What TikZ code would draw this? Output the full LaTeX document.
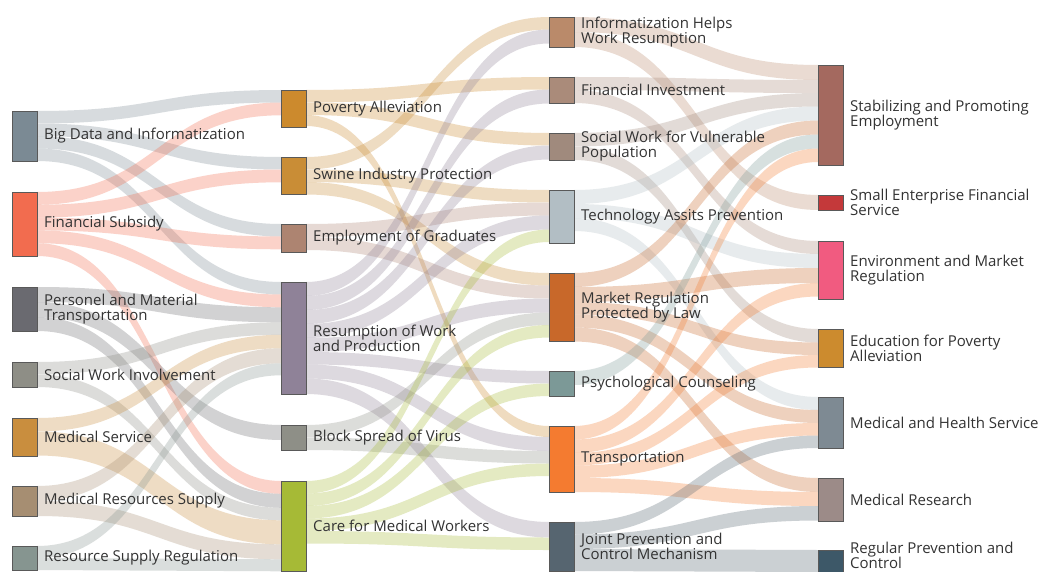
\documentclass[tikz,border=0pt]{standalone}
\usepackage{fontspec}
\setmainfont{Open Sans}
\usetikzlibrary{calc}
\pgfdeclarelayer{bg}
\pgfdeclarelayer{flows}
\pgfsetlayers{bg,flows,main}

% node colours
\definecolor{cBD}{HTML}{7B8A94}
\definecolor{cFS}{HTML}{F26C4F}
\definecolor{cPM}{HTML}{6A6A70}
\definecolor{cSW}{HTML}{8E8E86}
\definecolor{cMS}{HTML}{C98E3E}
\definecolor{cMR}{HTML}{A68E72}
\definecolor{cRS}{HTML}{869590}
\definecolor{cPA}{HTML}{CC8A2D}
\definecolor{cSI}{HTML}{C98D36}
\definecolor{cEG}{HTML}{AD8471}
\definecolor{cRW}{HTML}{8F8298}
\definecolor{cBS}{HTML}{8E8F87}
\definecolor{cCM}{HTML}{A6BA36}
\definecolor{cIH}{HTML}{BA8A6A}
\definecolor{cFI}{HTML}{AA8B7A}
\definecolor{cSV}{HTML}{A08A7D}
\definecolor{cTA}{HTML}{B2BEC4}
\definecolor{cMRL}{HTML}{C8682A}
\definecolor{cPC}{HTML}{7C9997}
\definecolor{cTR}{HTML}{F47B30}
\definecolor{cJP}{HTML}{566570}
\definecolor{cSP}{HTML}{A4695F}
\definecolor{cSE}{HTML}{C4393A}
\definecolor{cEM}{HTML}{F15B80}
\definecolor{cEP}{HTML}{CC8B2E}
\definecolor{cMH}{HTML}{7E8A93}
\definecolor{cMRS}{HTML}{9C8B88}
\definecolor{cRP}{HTML}{3D5868}

\tikzset{
  bar/.style={draw=black!65, line width=0.9pt, minimum width=25pt,
    inner sep=0pt, outer sep=0pt, anchor=north west},
  lbl/.style={anchor=west, inner sep=0pt, align=left, text=black!80,
    font=\fontsize{15}{15}\selectfont},
}

% a flow band: source, offset below source top, target, offset below target top, width
\newcommand{\sflow}[5]{%
  \coordinate (fa) at ($(#1.north east)+(0,#2)$);
  \coordinate (fb) at ($(#3.north west)+(0,#4)$);
  \coordinate (fc) at ($(fb)+(0,#5)$);
  \coordinate (fd) at ($(fa)+(0,#5)$);
  \coordinate (fm) at ($(fa)!0.5!(fb)$);
  \fill[c#1, fill opacity=0.3]
    (fa) .. controls (fm|-fa) and (fm|-fb) .. (fb) -- (fc)
    .. controls (fm|-fc) and (fm|-fd) .. (fd) -- cycle;
}
\newcommand{\blabel}[3][0pt]{\node[lbl] (#2-t) at ([xshift=7pt,yshift=#1]#2.east) {#3};}

\begin{document}
\begin{tikzpicture}[x=1pt, y=-1pt]
\useasboundingbox (0,0) rectangle (1043,572);
\begin{pgfonlayer}{bg}
  \fill[white] (0,0) rectangle (1043,572);
\end{pgfonlayer}

% first column
\node[bar, fill=cBD, minimum height=50pt] (BD) at (12,111) {};
\node[bar, fill=cFS, minimum height=64pt] (FS) at (12,192) {};
\node[bar, fill=cPM, minimum height=44pt] (PM) at (12,287) {};
\node[bar, fill=cSW, minimum height=25pt] (SW) at (12,362) {};
\node[bar, fill=cMS, minimum height=38pt] (MS) at (12,418) {};
\node[bar, fill=cMR, minimum height=30pt] (MR) at (12,486) {};
\node[bar, fill=cRS, minimum height=24pt] (RS) at (12,546) {};
% second column
\node[bar, fill=cPA, minimum height=37pt] (PA) at (281,90) {};
\node[bar, fill=cSI, minimum height=37pt] (SI) at (281,157) {};
\node[bar, fill=cEG, minimum height=28pt] (EG) at (281,224) {};
\node[bar, fill=cRW, minimum height=112pt] (RW) at (281,282) {};
\node[bar, fill=cBS, minimum height=25pt] (BS) at (281,425) {};
\node[bar, fill=cCM, minimum height=90pt] (CM) at (281,481) {};
% third column
\node[bar, fill=cIH, minimum height=30pt] (IH) at (549,17) {};
\node[bar, fill=cFI, minimum height=26pt] (FI) at (549,77) {};
\node[bar, fill=cSV, minimum height=27pt] (SV) at (549,133) {};
\node[bar, fill=cTA, minimum height=53pt] (TA) at (549,190) {};
\node[bar, fill=cMRL, minimum height=68pt] (MRL) at (549,273) {};
\node[bar, fill=cPC, minimum height=25pt] (PC) at (549,371) {};
\node[bar, fill=cTR, minimum height=66pt] (TR) at (549,426) {};
\node[bar, fill=cJP, minimum height=49pt] (JP) at (549,522) {};
% fourth column
\node[bar, fill=cSP, minimum height=100pt] (SP) at (818,65) {};
\node[bar, fill=cSE, minimum height=15pt] (SE) at (818,195) {};
\node[bar, fill=cEM, minimum height=58pt] (EM) at (818,241) {};
\node[bar, fill=cEP, minimum height=38pt] (EP) at (818,329) {};
\node[bar, fill=cMH, minimum height=51pt] (MH) at (818,397) {};
\node[bar, fill=cMRS, minimum height=43pt] (MRS) at (818,478) {};
\node[bar, fill=cRP, minimum height=22pt] (RP) at (818,550) {};

\blabel{BD}{Big Data and Informatization}
\blabel{FS}{Financial Subsidy}
\blabel{PM}{Personel and Material\\Transportation}
\blabel{SW}{Social Work Involvement}
\blabel{MS}{Medical Service}
\blabel{MR}{Medical Resources Supply}
\blabel{RS}{Resource Supply Regulation}
\blabel{PA}{Poverty Alleviation}
\blabel{SI}{Swine Industry Protection}
\blabel{EG}{Employment of Graduates}
\blabel{RW}{Resumption of Work\\and Production}
\blabel{BS}{Block Spread of Virus}
\blabel{CM}{Care for Medical Workers}
\blabel{IH}{Informatization Helps\\Work Resumption}
\blabel{FI}{Financial Investment}
\blabel{SV}{Social Work for Vulnerable\\Population}
\blabel{TA}{Technology Assits Prevention}
\blabel{MRL}{Market Regulation\\Protected by Law}
\blabel{PC}{Psychological Counseling}
\blabel{TR}{Transportation}
\blabel{JP}{Joint Prevention and\\Control Mechanism}
\blabel{SP}{Stabilizing and Promoting\\Employment}
\blabel{SE}{Small Enterprise Financial\\Service}
\blabel{EM}{Environment and Market\\Regulation}
\blabel{EP}{Education for Poverty\\Alleviation}
\blabel{MH}{Medical and Health Service}
\blabel{MRS}{Medical Research}
\blabel[6pt]{RP}{Regular Prevention and\\Control}

\begin{pgfonlayer}{flows}
% first to second column
\sflow{BD}{0}{PA}{0}{12.5}
\sflow{BD}{12.5}{SI}{0}{12.5}
\sflow{BD}{25}{EG}{0}{12.5}
\sflow{BD}{37.5}{RW}{0}{12.5}
\sflow{FS}{0}{PA}{12.5}{12.8}
\sflow{FS}{12.8}{SI}{12.5}{12.8}
\sflow{FS}{25.6}{EG}{12.5}{12.8}
\sflow{FS}{38.4}{RW}{12.5}{12.8}
\sflow{FS}{51.2}{CM}{0}{12.8}
\sflow{PM}{0}{RW}{25.3}{15}
\sflow{PM}{15}{BS}{0}{15}
\sflow{PM}{30}{CM}{12.8}{14}
\sflow{SW}{0}{RW}{40.3}{12.5}
\sflow{SW}{12.5}{CM}{26.8}{12.5}
\sflow{MS}{0}{RW}{52.8}{13.5}
\sflow{MS}{13.5}{CM}{39.3}{24}
\sflow{MR}{0}{RW}{66.3}{15}
\sflow{MR}{15}{CM}{63.3}{15}
\sflow{RS}{0}{RW}{81.3}{12}
\sflow{RS}{12}{CM}{78.3}{12}
% second to third column
\sflow{PA}{0}{FI}{0}{12.5}
\sflow{PA}{12.5}{SV}{0}{12.5}
\sflow{PA}{25}{TR}{0}{11}
\sflow{SI}{0}{IH}{0}{12.5}
\sflow{SI}{12.5}{TA}{0}{12.5}
\sflow{SI}{25}{MRL}{0}{12.5}
\sflow{EG}{0}{TA}{12.5}{13}
\sflow{EG}{13}{MRL}{12.5}{13}
\sflow{RW}{0}{IH}{12.5}{14}
\sflow{RW}{14}{FI}{12.5}{14}
\sflow{RW}{28}{SV}{12.5}{14}
\sflow{RW}{42}{TA}{25.5}{14}
\sflow{RW}{56}{MRL}{25.5}{14}
\sflow{RW}{70}{PC}{0}{12.5}
\sflow{RW}{82.5}{TR}{11}{14}
\sflow{RW}{96.5}{JP}{0}{15.5}
\sflow{BS}{0}{MRL}{39.5}{12.5}
\sflow{BS}{12.5}{TR}{25}{12.5}
\sflow{CM}{0}{TA}{39.5}{12.5}
\sflow{CM}{12.5}{MRL}{52}{12.5}
\sflow{CM}{25}{PC}{12.5}{12.5}
\sflow{CM}{37.5}{TR}{37.5}{12.5}
\sflow{CM}{50}{JP}{15.5}{12.5}
% third to fourth column
\sflow{IH}{0}{SP}{0}{15}
\sflow{IH}{15}{SE}{0}{15}
\sflow{FI}{0}{SP}{15}{13}
\sflow{FI}{13}{EM}{0}{13}
\sflow{SV}{0}{SP}{28}{13.5}
\sflow{SV}{13.5}{EP}{0}{13.5}
\sflow{TA}{0}{SP}{41.5}{14}
\sflow{TA}{14}{EM}{13}{14}
\sflow{TA}{28}{MH}{0}{13}
\sflow{MRL}{0}{SP}{55.5}{14}
\sflow{MRL}{14}{EM}{27}{15}
\sflow{MRL}{29}{EP}{13.5}{12.5}
\sflow{MRL}{41.5}{MH}{13}{13}
\sflow{MRL}{54.5}{MRS}{0}{14}
\sflow{PC}{0}{SP}{69.5}{14}
\sflow{TR}{0}{SP}{83.5}{13.5}
\sflow{TR}{13.5}{EM}{42}{13.5}
\sflow{TR}{27}{EP}{26}{12.5}
\sflow{TR}{39.5}{MH}{26}{12.5}
\sflow{TR}{52}{MRS}{14}{14}
\sflow{JP}{0}{MH}{38.5}{12.5}
\sflow{JP}{12.5}{MRS}{28}{14.5}
\sflow{JP}{27}{RP}{0}{22}
\end{pgfonlayer}
\end{tikzpicture}
\end{document}
